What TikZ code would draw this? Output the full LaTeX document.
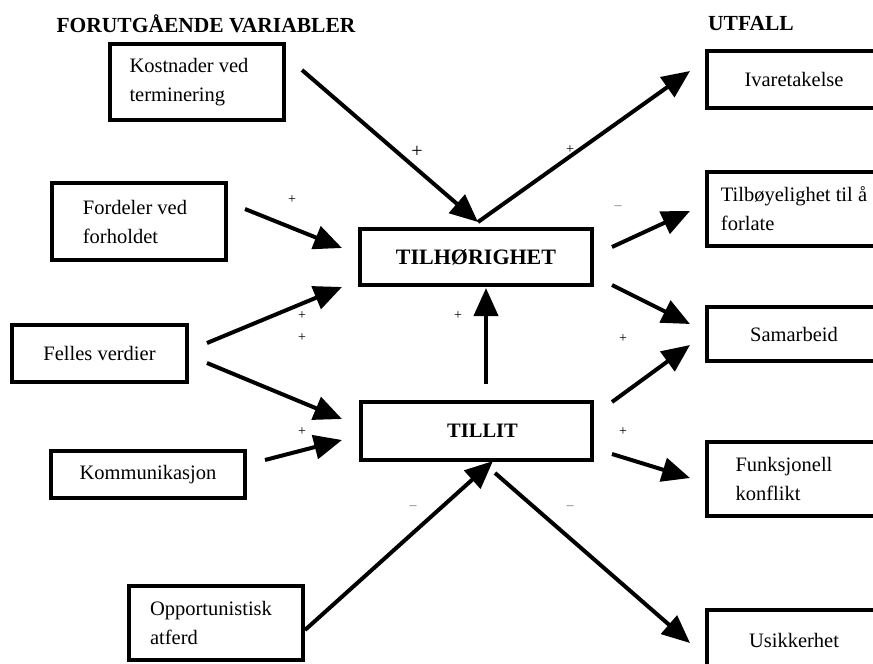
\documentclass[tikz,border=0pt]{standalone}
\usepackage{fontspec}
\setmainfont{Liberation Serif}
\usetikzlibrary{arrows.meta}
\begin{document}
\begin{tikzpicture}[x=1pt,y=-1pt,
  box/.style={draw, line width=4pt, align=left, inner sep=0pt,
    font=\fontsize{20.5}{29}\selectfont},
  mainbox/.style={draw, line width=4pt, inner sep=0pt,
    font=\fontsize{22}{26}\selectfont\bfseries},
  title/.style={font=\fontsize{21.5}{26}\selectfont\bfseries},
  arr/.style={line width=4pt, -{Triangle[length=28pt,width=24pt]}},
  sign/.style={font=\fontsize{14}{14}\selectfont, inner sep=0pt},
  neg/.style={font=\fontsize{14}{14}\selectfont, inner sep=0pt, text=black!55}]
\useasboundingbox (0,0) rectangle (873,664);

% titles
\node[title] (t1) at (206,24) {FORUTGÅENDE VARIABLER};
\node[title] (t2) at (751,24) {UTFALL};

% antecedent boxes
\node[box, minimum width=174pt, minimum height=76pt] (kost) at (197,82) {Kostnader ved\hspace*{16pt}\\terminering};
\node[box, minimum width=174pt, minimum height=77pt] (ford) at (139,221.5) {Fordeler ved\hspace*{8pt}\\forholdet};
\node[box, minimum width=175pt, minimum height=57pt] (fell) at (99.5,353.5) {Felles verdier};
\node[box, minimum width=194pt, minimum height=47pt] (komm) at (148,474.5) {Kommunikasjon};
\node[box, minimum width=174pt, minimum height=74pt] (opp) at (216,623) {Opportunistisk\hspace*{10pt}\\atferd};

% central boxes
\node[mainbox, minimum width=232pt, minimum height=56pt] (tilh) at (476,257) {TILHØRIGHET};
\node[mainbox, minimum width=231pt, minimum height=58pt, font=\fontsize{20.5}{24}\selectfont\bfseries] (till) at (476.5,431) {\hspace*{12pt}TILLIT};

% outcome boxes
\node[box, minimum width=174pt, minimum height=57pt] (iva) at (794,79.5) {Ivaretakelse};
\node[box, minimum width=174pt, minimum height=74pt] (tilb) at (794,209) {Tilbøyelighet til å\\forlate};
\node[box, minimum width=174pt, minimum height=54pt] (sam) at (794,334) {Samarbeid};
\node[box, minimum width=174pt, minimum height=74pt] (funk) at (794,479) {Funksjonell\hspace*{20pt}\\konflikt};
\node[box, minimum width=174pt, minimum height=60pt] (usik) at (794,640) {Usikkerhet};

% arrow end points
\coordinate (kostOut) at (302,70);
\coordinate (tilhTop) at (478,222);
\coordinate (ivaIn) at (690,71);
\coordinate (fordOut) at (245,209);
\coordinate (tilhInA) at (342,248);
\coordinate (fellOutA) at (207,343);
\coordinate (tilhInB) at (342,287);
\coordinate (fellOutB) at (207,363);
\coordinate (tillInA) at (342,419);
\coordinate (kommOut) at (265,460);
\coordinate (tillInB) at (342,440);
\coordinate (oppOut) at (305,630);
\coordinate (tillInC) at (493,461);
\coordinate (tillUp) at (486,384);
\coordinate (tilhBot) at (486,288);
\coordinate (tillOutD) at (495,473);
\coordinate (usikIn) at (690,643);
\coordinate (tilhOutA) at (612,247);
\coordinate (tilbIn) at (690,211);
\coordinate (tilhOutB) at (612,285);
\coordinate (samInA) at (690,324);
\coordinate (tillOutA) at (612,402);
\coordinate (samInB) at (690,345);
\coordinate (tillOutB) at (612,454);
\coordinate (funkIn) at (690,478);

% arrows
\draw[arr] (kostOut) -- (tilhTop);
\draw[arr] (tilhTop) -- (ivaIn);
\draw[arr] (fordOut) -- (tilhInA);
\draw[arr] (fellOutA) -- (tilhInB);
\draw[arr] (fellOutB) -- (tillInA);
\draw[arr] (kommOut) -- (tillInB);
\draw[arr] (oppOut) -- (tillInC);
\draw[arr] (tillUp) -- (tilhBot);
\draw[arr] (tillOutD) -- (usikIn);
\draw[arr] (tilhOutA) -- (tilbIn);
\draw[arr] (tilhOutB) -- (samInA);
\draw[arr] (tillOutA) -- (samInB);
\draw[arr] (tillOutB) -- (funkIn);

% signs
\node[sign, font=\fontsize{20}{20}\selectfont] (s1) at (417,152) {+};
\node[sign] (s2) at (570,150) {+};
\node[sign] (s3) at (292,200) {+};
\node[sign] (s4) at (302,316) {+};
\node[sign] (s5) at (302,338) {+};
\node[sign] (s6) at (302,432) {+};
\node[sign] (s7) at (458,316) {+};
\node[sign] (s8) at (623,339) {+};
\node[sign] (s9) at (623,432) {+};
\node[neg] (m1) at (413,508) {–};
\node[neg] (m2) at (570,508) {–};
\node[neg] (m3) at (618,208) {–};
\end{tikzpicture}
\end{document}
